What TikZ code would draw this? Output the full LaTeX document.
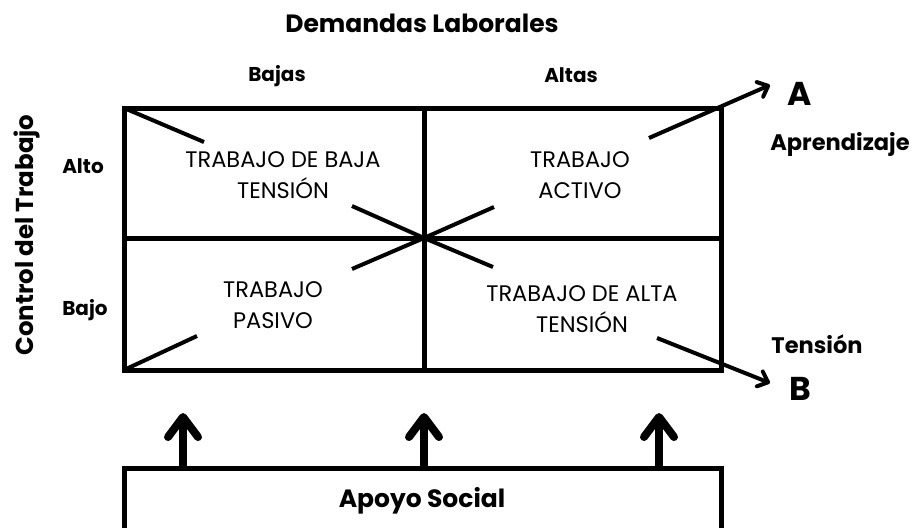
\documentclass[tikz,border=0pt]{standalone}
\usepackage{fontspec}
\setmainfont{Poppins}
\usetikzlibrary{arrows.meta}
\tikzset{
  frame/.style={line width=5pt},
  ray/.style={line width=4pt},
  outray/.style={line width=4pt, -{Straight Barb[length=9pt,width=16pt,round]}},
  support/.style={line width=8pt, -{Straight Barb[length=20pt,width=30pt,round]}},
  lbl/.style={font=\bfseries\fontsize{20}{20}\selectfont, anchor=base},
  cell/.style={font=\fontsize{22.5}{31}\selectfont, align=center},
}

\begin{document}
\begin{tikzpicture}[x=1pt,y=-1pt]
                \useasboundingbox (0,0) rectangle (914,528);
                % matrix corners and centre
                \coordinate (tl) at (124,108);
                \coordinate (tr) at (721,108);
                \coordinate (bl) at (124,370);
                \coordinate (br) at (721,370);
                \coordinate (tm) at (424,108);
                \coordinate (bm) at (424,370);
                \coordinate (ml) at (124,238);
                \coordinate (mr) at (721,238);
                \coordinate (ctr) at (424,238);
                \draw[frame] (tl) rectangle (br);
                \draw[frame] (tm) -- (bm);
                \draw[frame] (ml) -- (mr);

                % cell texts
                \node[cell] (baja) at (283,175) {TRABAJO DE BAJA\\TENSIÓN};
                \node[cell] (activo) at (580,175) {TRABAJO\\ACTIVO};
                \node[cell] (pasivo) at (273,305) {TRABAJO\\PASIVO};
                \node[cell] (alta) at (582,309) {TRABAJO DE ALTA\\TENSIÓN};

                % diagonals
                \coordinate (d1) at (204,142);
                \coordinate (d2) at (197,336);
                \coordinate (d3) at (352,206);
                \coordinate (d4) at (352,269);
                \coordinate (d5) at (494,207);
                \coordinate (d6) at (493,267);
                \coordinate (d7) at (649,138);
                \coordinate (d8) at (657,338);
                \draw[ray] (tl) -- (d1);
                \draw[ray] (bl) -- (d2);
                \draw[ray] (ctr) -- (d3);
                \draw[ray] (ctr) -- (d4);
                \draw[ray] (ctr) -- (d5);
                \draw[ray] (ctr) -- (d6);

                % labels
                \node[lbl, font=\bfseries\fontsize{25}{25}\selectfont] (demandas) at (422,32) {Demandas Laborales};
                \node[lbl] (bajas) at (277,81) {Bajas};
                \node[lbl] (altas) at (571,82) {Altas};
                \node[lbl] (alto) at (83,173) {Alto};
                \node[lbl] (bajo) at (85,315) {Bajo};
                \node[lbl, font=\bfseries\fontsize{24.5}{24.5}\selectfont, rotate=90] (control) at (33,235) {Control del Trabajo};
                \node[lbl, font=\bfseries\fontsize{33}{33}\selectfont] (A) at (800,105) {A};
                \node[lbl, font=\bfseries\fontsize{33}{33}\selectfont] (B) at (800,400) {B};
                \node[lbl, font=\bfseries\fontsize{22.5}{22.5}\selectfont] (aprendizaje) at (840,150) {Aprendizaje};
                \node[lbl, font=\bfseries\fontsize{22.5}{22.5}\selectfont] (tension) at (817,353) {Tensión};
                \coordinate (tipA) at (770,85);
                \coordinate (tipB) at (770,383);
                \draw[outray] (d7) -- (tipA);
                \draw[outray] (d8) -- (tipB);

                % social support
                \draw[frame] (124,535) -- (124,468) -- (721,468) -- (721,535);
                \node[lbl, font=\bfseries\fontsize{25}{25}\selectfont] (apoyo) at (422,507) {Apoyo Social};
                \foreach \x/\n in {183/1,424/2,659/3}{
                  \coordinate (s\n) at (\x,468);
                  \coordinate (t\n) at (\x,413);
                  \draw[support] (s\n) -- (t\n);
                }
            \end{tikzpicture}
\end{document}
